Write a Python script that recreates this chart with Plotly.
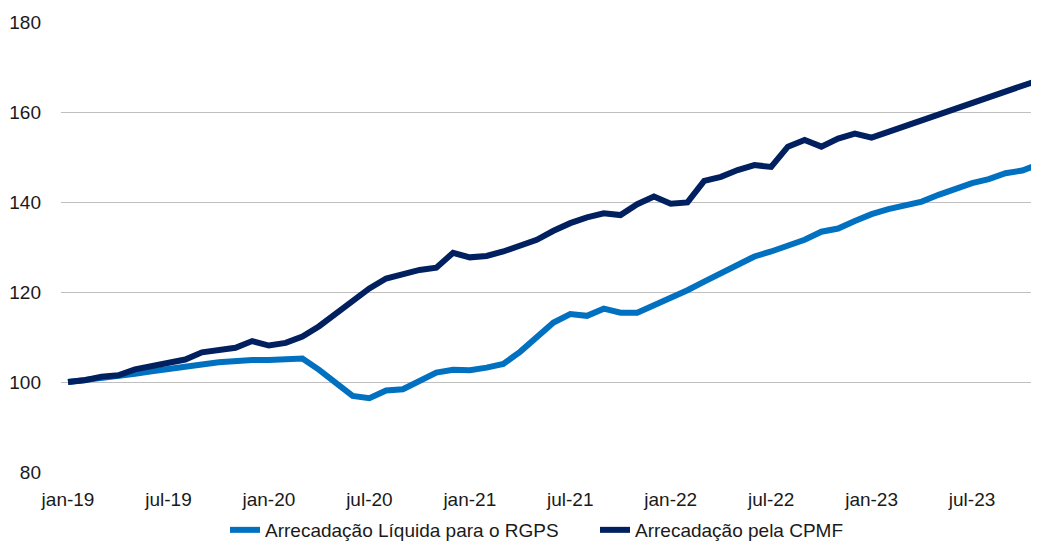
import plotly.graph_objects as go

# Monthly index values, jan-19 .. nov-23
months = ["jan", "fev", "mar", "abr", "mai", "jun", "jul", "ago", "set", "out", "nov", "dez"]
categories = [f"{m}-{y}" for y in range(19, 24) for m in months][:59]

rgps = [100.0, 100.4, 100.9, 101.3, 101.8, 102.4, 102.8, 103.3, 103.9, 104.4, 104.7, 104.9,
        104.9, 105.1, 105.2, 102.7, 99.9, 96.9, 96.4, 98.1, 98.4, 100.4, 102.1, 102.7,
        102.6, 103.2, 104.0, 106.7, 110.1, 113.2, 115.1, 114.7, 116.3, 115.4, 115.4, 117.0,
        118.8, 120.4, 122.3, 124.1, 126.2, 127.9, 129.0, 130.4, 131.6, 133.4, 134.1, 135.8,
        137.3, 138.4, 139.2, 140.1, 141.6, 143.0, 144.2, 145.1, 146.4, 147.0, 148.4]

cpmf = [100.0, 100.4, 101.2, 101.5, 102.8, 103.6, 104.4, 105.0, 106.6, 107.0, 107.6, 109.1,
        108.1, 108.7, 110.1, 112.4, 115.1, 118.2, 120.8, 123.0, 124.1, 124.9, 125.4, 128.7,
        127.7, 128.0, 129.0, 130.2, 131.6, 133.6, 135.3, 136.6, 137.5, 137.1, 139.5, 141.2,
        139.6, 139.9, 144.7, 145.6, 147.1, 148.2, 147.8, 152.3, 153.8, 152.3, 154.1, 155.2,
        154.3, 155.6, 156.9, 158.2, 159.5, 160.8, 162.1, 163.4, 164.6, 165.9, 167.1]

tick_labels = ["jan-19", "jul-19", "jan-20", "jul-20", "jan-21", "jul-21",
               "jan-22", "jul-22", "jan-23", "jul-23"]
y_ticks = [80, 100, 120, 140, 160, 180]

x = list(range(len(categories)))
tick_pos = [i * 6 for i in range(len(tick_labels))]

FONT = "Liberation Sans, Arial, sans-serif"

fig = go.Figure()
fig.add_trace(go.Scatter(
    x=x, y=rgps, mode="lines", name="Arrecadação Líquida para o RGPS",
    line=dict(color="#0070C0", width=6), hoverinfo="skip"))
fig.add_trace(go.Scatter(
    x=x, y=cpmf, mode="lines", name="Arrecadação pela CPMF",
    line=dict(color="#002060", width=6), hoverinfo="skip"))

fig.update_layout(
    width=1039, height=546,
    margin=dict(l=53, r=8, t=14, b=82),
    paper_bgcolor="white", plot_bgcolor="white",
    font=dict(family=FONT, size=19, color="#1a1a1a"),
    showlegend=True,
    legend=dict(orientation="h", x=164 / 978, xanchor="left",
                yref="container", y=1 - 522 / 546, yanchor="middle",
                entrywidth=325, entrywidthmode="pixels",
                font=dict(family=FONT, size=19, color="#1a1a1a"),
                bgcolor="rgba(0,0,0,0)"),
)
fig.update_xaxes(
    range=[-0.42, 58.0], tickmode="array", tickvals=tick_pos, ticktext=tick_labels,
    showgrid=False, zeroline=False, showline=False, ticks="", ticklabelstandoff=14,
    automargin=False, fixedrange=True)
fig.update_yaxes(
    range=[80, 180], tickmode="array", tickvals=y_ticks,
    showgrid=True, gridcolor="#BFBFBF", gridwidth=1.3, zeroline=False, showline=False,
    ticks="", ticklabelstandoff=19, automargin=False, fixedrange=True)

fig.write_html("out.html", config={"displayModeBar": False})
